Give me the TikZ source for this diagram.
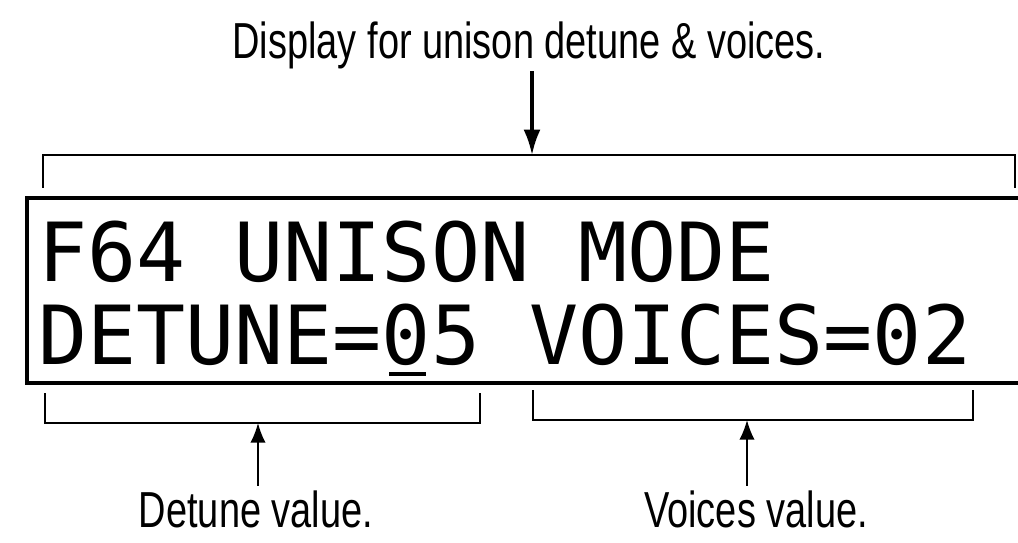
\documentclass[tikz,border=0pt]{standalone}
\usepackage{fontspec}
\usetikzlibrary{positioning, arrows.meta}
\newfontfamily\capfont[FakeStretch=0.75]{Liberation Sans}
\newfontfamily\lcdfont{DejaVu Sans Mono}

\begin{document}
\begin{tikzpicture}[x=0.025cm, y=-0.025cm,
    caption/.style={font=\capfont\fontsize{36}{40}\selectfont, inner sep=1pt},
    lcdline/.style={font=\lcdfont\fontsize{58}{60}\selectfont, anchor=base west, inner sep=0pt},
    bracket/.style={line width=1.4pt},
    pointer/.style={-{Latex[length=14pt, width=11pt]}, line width=1.4pt}]
  \useasboundingbox (0,0) rectangle (1018,543);
  % display frame, runs off the right edge
  \draw[line width=2.8pt] (1030,198) -- (27,198) -- (27,383) -- (1030,383);
  \node[lcdline] (row1) at (38,282) {F64 UNISON MODE};
  \node[lcdline] (row2) at (38,365) {DETUNE=05 VOICES=02};
  \draw[line width=2.5pt] (389,374) -- (426,374);
  % brackets
  \coordinate (dispmid) at (532,155);
  \coordinate (detmid) at (258,423);
  \coordinate (voimid) at (747,420);
  \draw[bracket] (43,188) |- (1015,155) -- (1015,188);
  \draw[bracket] (45,393) |- (480,423) -- (480,393);
  \draw[bracket] (533,390) |- (973,420) -- (973,390);
  % captions
  \node[caption, anchor=base] (dispcap) at (529,59) {Display for unison detune \& voices.};
  \node[caption, anchor=base, inner sep=0pt] (detcap) at (256,527) {Detune value.};
  \node[caption, anchor=base, inner sep=0pt] (voicap) at (756,527) {Voices value.};
  \draw[pointer, line width=2.2pt, -{Latex[length=18pt, width=12pt]}] (dispcap.south -| dispmid) -- (dispmid);
  \draw[pointer] ([yshift=3pt]detcap.north -| detmid) -- (detmid);
  \draw[pointer] ([yshift=3pt]voicap.north -| voimid) -- (voimid);
\end{tikzpicture}
\end{document}
